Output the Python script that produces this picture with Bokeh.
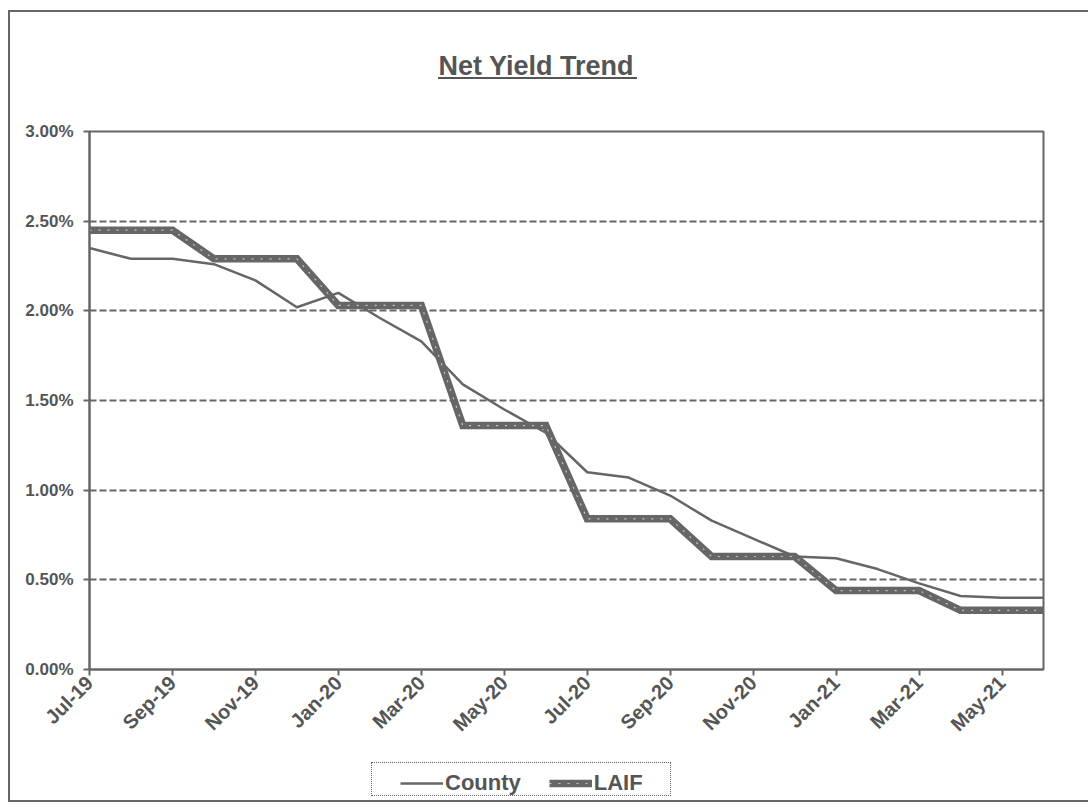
import numpy as np
from bokeh.plotting import figure
from bokeh.layouts import column
from bokeh.models import (Range1d, FixedTicker, NumeralTickFormatter, Legend, LegendItem,
                          InlineStyleSheet)
from bokeh.embed import file_html
from bokeh.resources import INLINE

# Monthly net yields (percent)
months = ["Jul-19", "Aug-19", "Sep-19", "Oct-19", "Nov-19", "Dec-19",
          "Jan-20", "Feb-20", "Mar-20", "Apr-20", "May-20", "Jun-20",
          "Jul-20", "Aug-20", "Sep-20", "Oct-20", "Nov-20", "Dec-20",
          "Jan-21", "Feb-21", "Mar-21", "Apr-21", "May-21", "Jun-21"]
county = [2.35, 2.29, 2.29, 2.26, 2.17, 2.02, 2.10, 1.96, 1.83, 1.59, 1.45, 1.32,
          1.10, 1.07, 0.97, 0.83, 0.73, 0.63, 0.62, 0.56, 0.48, 0.41, 0.40, 0.40]
laif = [2.45, 2.45, 2.45, 2.29, 2.29, 2.29, 2.03, 2.03, 2.03, 1.36, 1.36, 1.36,
        0.84, 0.84, 0.84, 0.63, 0.63, 0.63, 0.44, 0.44, 0.44, 0.33, 0.33, 0.33]
y_ticks = [0.0, 0.005, 0.01, 0.015, 0.02, 0.025, 0.03]

x = list(range(len(months)))
county_frac = [v / 100 for v in county]
laif_frac = [v / 100 for v in laif]

INK = "#666666"
TEXT = "#555555"
FONT = "Liberation Sans"

# outer chart border, title underline and the dotted legend box
css = InlineStyleSheet(css="""
:host { position: relative; }
:host::before { content: ""; position: absolute; left: 8px; top: 10px;
  width: 1080px; height: 792px; box-sizing: border-box;
  border: 2px solid #666666; border-right: none;
  background: linear-gradient(#555555, #555555) no-repeat;
  background-size: 199px 2px; background-position: 428px 65px;
  pointer-events: none; z-index: 5; }
:host::after { content: ""; position: absolute; left: 371px; top: 762px;
  width: 300px; height: 34px; box-sizing: border-box;
  border: 1.5px dotted #666666; pointer-events: none; z-index: 5; }
""")

# main chart
p = figure(width=1088, height=749, output_backend="svg", toolbar_location=None,
           x_range=Range1d(0, len(months) - 1), y_range=Range1d(0, 0.03),
           min_border_left=89, min_border_right=45, min_border_top=131,
           min_border_bottom=80)
p.background_fill_color = "white"
p.border_fill_color = None
p.outline_line_color = INK
p.outline_line_width = 2

p.title.text = "Net Yield Trend"
p.title.align = "left"
p.title.offset = 349
p.title.vertical_align = "top"
p.title.standoff = 98
p.title.text_font = FONT
p.title.text_font_style = "bold"
p.title.text_font_size = "27px"
p.title.text_color = TEXT

p.xaxis.ticker = FixedTicker(ticks=x[::2])
p.xaxis.major_label_overrides = {i: months[i] for i in x}
p.xaxis.major_label_orientation = np.pi / 4
p.yaxis.ticker = FixedTicker(ticks=y_ticks)
p.yaxis.formatter = NumeralTickFormatter(format="0.00%")
for ax in (p.xaxis, p.yaxis):
    ax.axis_line_color = INK
    ax.axis_line_width = 2
    ax.major_tick_line_color = INK
    ax.major_tick_line_width = 2
    ax.major_tick_in = 0
    ax.major_tick_out = 6
    ax.minor_tick_line_color = None
    ax.major_label_text_font = FONT
    ax.major_label_text_font_style = "bold"
    ax.major_label_text_color = TEXT
p.xaxis.major_label_text_font_size = "20px"
p.yaxis.major_label_text_font_size = "17px"
p.yaxis.major_label_standoff = 10
p.xaxis.major_label_standoff = 4

p.xgrid.grid_line_color = None
p.ygrid.ticker = FixedTicker(ticks=y_ticks[1:-1])
p.ygrid.grid_line_color = INK
p.ygrid.grid_line_width = 2
p.ygrid.grid_line_dash = "7 3"

p.line(x, county_frac, line_color=INK, line_width=2.5)
p.line(x, laif_frac, line_color=INK, line_width=7.5, line_join="miter")
p.line(x, laif_frac, line_color="#dddddd", line_width=1.2, line_dash="2 7",
       line_alpha=0.8)

# legend strip below the chart; its key lines carry the same series but sit
# outside the strip's visible y range, so only the legend keys show
lg = figure(width=1088, height=58, output_backend="svg", toolbar_location=None,
            x_range=Range1d(0, len(months) - 1), y_range=Range1d(1, 2),
            x_axis_type=None, y_axis_type=None, min_border=0)
lg.outline_line_color = None
lg.background_fill_color = "white"
lg.border_fill_color = None
lg.grid.visible = False
k_county = lg.line(x, county_frac, line_color=INK, line_width=2.5)
k_laif = lg.line(x, laif_frac, line_color=INK, line_width=7.5)
k_laif_hi = lg.line(x, laif_frac, line_color="#dddddd", line_width=1.2,
                    line_dash="2 7", line_alpha=0.8)
legend = Legend(items=[LegendItem(label="County", renderers=[k_county]),
                       LegendItem(label="LAIF", renderers=[k_laif, k_laif_hi])],
                orientation="horizontal", location=(311, 11),
                label_text_font=FONT, label_text_font_style="bold",
                label_text_font_size="22px", label_text_color=TEXT,
                glyph_width=43, glyph_height=22, label_standoff=2, spacing=28,
                padding=6, margin=0, border_line_color=None,
                background_fill_alpha=0)
lg.add_layout(legend, "center")

layout = column(p, lg, spacing=0, stylesheets=[css])
open("out.html", "w").write(file_html(layout, INLINE))
